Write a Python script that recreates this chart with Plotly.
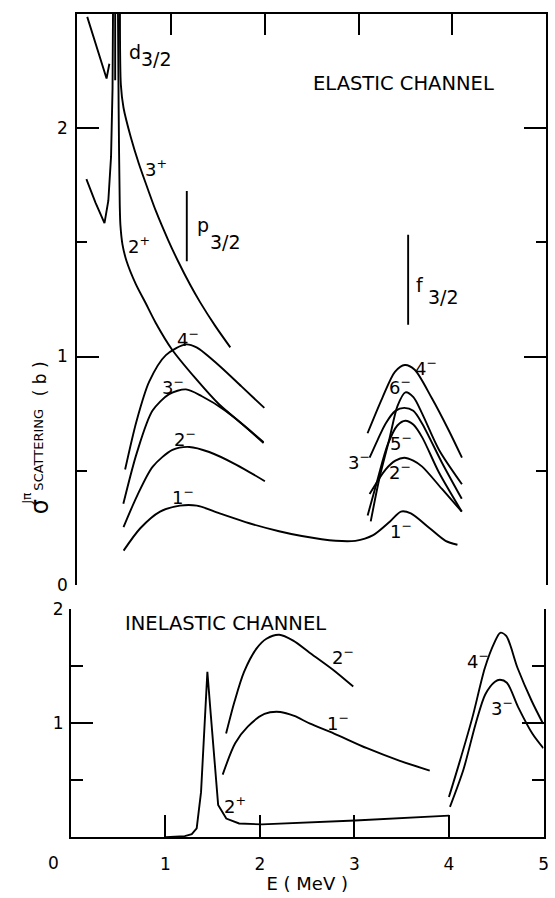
import plotly.graph_objects as go

# ---------------- Elastic channel (top panel) : E in MeV, sigma in barn ----------------
el_bg1_E = [0.106, 0.214, 0.312, 0.342]
el_bg1_s = [2.487, 2.346, 2.217, 2.282]
el_bg2_E = [0.097, 0.194, 0.290, 0.331, 0.360, 0.376, 0.381]
el_bg2_s = [1.777, 1.674, 1.584, 1.682, 1.875, 2.175, 2.509]
el_2p_E = [0.434, 0.441, 0.453, 0.460, 0.482, 0.526, 0.623, 0.730, 0.837, 1.008, 1.264, 1.509, 1.753, 1.987]
el_2p_s = [2.50, 2.089, 1.661, 1.575, 1.490, 1.417, 1.318, 1.233, 1.147, 1.032, 0.903, 0.792, 0.706, 0.621]
el_3p_E = [0.455, 0.465, 0.493, 0.570, 0.656, 0.756, 0.840, 0.968, 1.075, 1.204, 1.311, 1.471, 1.632]
el_3p_s = [2.50, 2.188, 2.089, 1.961, 1.845, 1.729, 1.635, 1.511, 1.417, 1.314, 1.237, 1.134, 1.040]
el_4m_E = [0.510, 0.633, 0.767, 0.945, 1.156, 1.272, 1.506, 1.751, 1.995]
el_4m_s = [0.505, 0.719, 0.890, 1.006, 1.053, 1.040, 0.963, 0.869, 0.775]
el_3m_E = [0.491, 0.635, 0.801, 0.980, 1.159, 1.329, 1.583, 1.987]
el_3m_s = [0.355, 0.578, 0.762, 0.835, 0.856, 0.826, 0.762, 0.625]
el_2m_E = [0.493, 0.638, 0.805, 1.015, 1.195, 1.407, 1.693, 2.001]
el_2m_s = [0.253, 0.390, 0.518, 0.591, 0.604, 0.582, 0.527, 0.454]
el_1m_E = [0.494, 0.672, 0.883, 1.095, 1.275, 1.518, 1.835, 2.152, 2.395, 2.755, 2.966,
           3.156, 3.336, 3.452, 3.558, 3.759, 3.928, 4.055]
el_1m_s = [0.150, 0.248, 0.321, 0.347, 0.347, 0.313, 0.270, 0.235, 0.214, 0.193, 0.193,
           0.218, 0.278, 0.321, 0.313, 0.248, 0.193, 0.176]
# resonance group near 3.5 MeV
res_4m_E = [3.096, 3.253, 3.388, 3.494, 3.599, 3.781, 3.963, 4.103]
res_4m_s = [0.664, 0.818, 0.933, 0.963, 0.942, 0.818, 0.676, 0.557]
res_6m_E = [3.130, 3.225, 3.331, 3.415, 3.500, 3.585, 3.680, 3.859, 4.103]
res_6m_s = [0.278, 0.471, 0.642, 0.783, 0.843, 0.822, 0.749, 0.591, 0.441]
res_3m_E = [3.118, 3.203, 3.288, 3.393, 3.488, 3.584, 3.679, 3.890, 4.101]
res_3m_s = [0.557, 0.634, 0.706, 0.762, 0.775, 0.762, 0.706, 0.535, 0.377]
res_5m_E = [3.097, 3.203, 3.309, 3.414, 3.499, 3.584, 3.679, 3.858, 4.101]
res_5m_s = [0.304, 0.462, 0.612, 0.698, 0.719, 0.702, 0.646, 0.492, 0.321]
res_2m_E = [3.118, 3.288, 3.393, 3.488, 3.584, 3.679, 3.890, 4.101]
res_2m_s = [0.398, 0.505, 0.544, 0.557, 0.544, 0.518, 0.420, 0.321]

# single-particle resonance markers (d3/2, p3/2, f3/2)
mark_E = [0.404, 1.168, 3.529]
mark_lo = [2.209, 1.417, 1.139]
mark_hi = [2.50, 1.725, 1.533]

# curve labels (top panel)
el_lab_text = ["4<sup>−</sup>", "3<sup>−</sup>", "2<sup>−</sup>", "1<sup>−</sup>", "3<sup>+</sup>", "2<sup>+</sup>",
               "4<sup>−</sup>", "6<sup>−</sup>", "5<sup>−</sup>", "2<sup>−</sup>", "1<sup>−</sup>", "3<sup>−</sup>"]
el_lab_E = [1.184, 1.025, 1.152, 1.131, 0.835, 0.655, 3.721, 3.446, 3.457, 3.446, 3.457, 3.002]
el_lab_s = [1.083, 0.869, 0.642, 0.390, 1.824, 1.490, 0.955, 0.873, 0.625, 0.497, 0.240, 0.544]

# ---------------- Inelastic channel (bottom panel) ----------------
in_2p_E = [1.0, 1.205, 1.279, 1.331, 1.377, 1.411, 1.444, 1.482, 1.521, 1.558, 1.644, 1.780, 2.021, 3.006, 4.001]
in_2p_s = [0.0, 0.009, 0.026, 0.077, 0.395, 0.910, 1.451, 1.056, 0.627, 0.283, 0.163, 0.120, 0.112, 0.146, 0.189]
in_2m_E = [1.642, 1.732, 1.832, 1.965, 2.069, 2.204, 2.352, 2.522, 2.776, 2.987]
in_2m_s = [0.910, 1.193, 1.451, 1.657, 1.742, 1.777, 1.725, 1.622, 1.468, 1.322]
in_1m_E = [1.606, 1.738, 1.871, 2.048, 2.216, 2.363, 2.531, 2.784, 3.132, 3.480, 3.796]
in_1m_s = [0.549, 0.824, 0.970, 1.082, 1.099, 1.064, 0.996, 0.910, 0.781, 0.670, 0.584]
in_4m_E = [3.999, 4.109, 4.249, 4.379, 4.480, 4.542, 4.605, 4.725, 4.876, 4.995]
in_4m_s = [0.352, 0.652, 1.056, 1.485, 1.708, 1.794, 1.768, 1.485, 1.193, 0.996]
in_3m_E = [4.010, 4.152, 4.282, 4.383, 4.486, 4.539, 4.612, 4.731, 4.881, 4.998]
in_3m_s = [0.266, 0.592, 0.996, 1.253, 1.365, 1.382, 1.356, 1.142, 0.910, 0.781]

in_lab_text = ["2<sup>−</sup>", "1<sup>−</sup>", "2<sup>+</sup>", "4<sup>−</sup>", "3<sup>−</sup>"]
in_lab_E = [2.875, 2.830, 1.735, 4.303, 4.565]
in_lab_s = [1.590, 1.015, 0.283, 1.554, 1.142]

# axes ticks
x_tickvals = [0, 1, 2, 3, 4, 5]
x_ticktext = ["", "1", "2", "3", "4", "5"]
y_top_tickvals = [0, 1, 2]
y_top_ticktext = ["0", "1", "2"]
y_bot_tickvals = [0, 1, 2]
y_bot_ticktext = ["", "1", "2"]
half_ticks = [0.5, 1.5]

FONT = "DejaVu Sans"
LW = 1.9

fig = go.Figure()


def add_curve(E, s, top=True, shape="spline"):
    line = dict(color="black", width=LW, shape=shape)
    if shape == "spline":
        line["smoothing"] = 0.8
    fig.add_trace(go.Scatter(
        x=E, y=s, mode="lines", line=line,
        xaxis="x2" if top else "x", yaxis="y2" if top else "y",
        hoverinfo="skip"))


# top panel curves
add_curve(el_bg1_E, el_bg1_s, shape="linear")
add_curve(el_bg2_E, el_bg2_s, shape="linear")
add_curve(el_2p_E, el_2p_s)
add_curve(el_3p_E, el_3p_s)
add_curve(el_4m_E, el_4m_s)
add_curve(el_3m_E, el_3m_s)
add_curve(el_2m_E, el_2m_s)
add_curve(el_1m_E, el_1m_s)
add_curve(res_4m_E, res_4m_s)
add_curve(res_6m_E, res_6m_s)
add_curve(res_3m_E, res_3m_s)
add_curve(res_5m_E, res_5m_s)
add_curve(res_2m_E, res_2m_s)
for e, lo, hi in zip(mark_E, mark_lo, mark_hi):
    add_curve([e, e], [lo, hi], shape="linear")

# bottom panel curves
add_curve(in_2p_E, in_2p_s, top=False, shape="linear")
add_curve(in_2m_E, in_2m_s, top=False)
add_curve(in_1m_E, in_1m_s, top=False)
add_curve(in_4m_E, in_4m_s, top=False)
add_curve(in_3m_E, in_3m_s, top=False)

ann = []
lab_font = dict(family=FONT, size=18, color="black")
for t, e, s in zip(el_lab_text, el_lab_E, el_lab_s):
    ann.append(dict(x=e, y=s, xref="x2", yref="y2", text=t, showarrow=False, font=lab_font))
for t, e, s in zip(in_lab_text, in_lab_E, in_lab_s):
    ann.append(dict(x=e, y=s, xref="x", yref="y", text=t, showarrow=False, font=lab_font))

# single-particle labels (letter and 3/2 as separate, same size)
sp_font = dict(family=FONT, size=19, color="black")
sp_letters = ["d", "p", "f"]
sp_letter_E = [0.529, 1.258, 3.594]
sp_letter_s = [2.334, 1.576, 1.315]
sp_frac_E = [0.655, 1.395, 3.721]
sp_frac_s = [2.303, 1.503, 1.259]
for l, e, s in zip(sp_letters, sp_letter_E, sp_letter_s):
    ann.append(dict(x=e, y=s, xref="x2", yref="y2", text=l, showarrow=False, font=sp_font, xanchor="left"))
for e, s in zip(sp_frac_E, sp_frac_s):
    ann.append(dict(x=e, y=s, xref="x2", yref="y2", text="3/2", showarrow=False, font=sp_font, xanchor="left"))

title_font = dict(family=FONT, size=19.5, color="black")
ann.append(dict(x=3.478, y=2.197, xref="x2", yref="y2", text="ELASTIC CHANNEL", showarrow=False, font=title_font))
ann.append(dict(x=1.640, y=1.872, xref="x", yref="y", text="INELASTIC CHANNEL", showarrow=False, font=title_font))

# y-axis title pieces (rotated)
W, H = 555.0, 898.0
ytitle_text = ["σ", "Jπ", "SCATTERING", "( b )"]
ytitle_px = [40, 27, 39, 40]
ytitle_py = [508, 500, 450, 377]
ytitle_size = [24, 12, 13, 17]
for t, px, py, sz in zip(ytitle_text, ytitle_px, ytitle_py, ytitle_size):
    ann.append(dict(x=px / W, y=1 - py / H, xref="paper", yref="paper", text=t, textangle=-90,
                    xanchor="center", yanchor="middle", showarrow=False,
                    font=dict(family=FONT, size=sz, color="black")))
# shared origin label
ann.append(dict(x=54 / W, y=1 - 872 / H, xref="paper", yref="paper", text="0",
                xanchor="center", yanchor="middle", showarrow=False,
                font=dict(family=FONT, size=17, color="black")))

tick_font = dict(family=FONT, size=17, color="black")
common = dict(showline=True, linecolor="black", linewidth=2, showgrid=False, zeroline=False,
              ticks="inside", tickcolor="black", tickwidth=2)

fig.update_layout(
    width=555, height=898, margin=dict(l=0, r=0, t=0, b=0),
    paper_bgcolor="white", plot_bgcolor="white", showlegend=False,
    annotations=ann,
    xaxis=dict(domain=[71.5 / W, 548.5 / W], range=[0, 5], anchor="y", mirror=False, ticklen=22,
               tickmode="array", tickvals=x_tickvals, ticktext=x_ticktext, tickfont=tick_font,
               ticklabelstandoff=10,
               title=dict(text="E ( MeV )", font=dict(family=FONT, size=18, color="black"), standoff=5),
               **common),
    yaxis=dict(domain=[1 - 846 / H, 1 - 613 / H], range=[0, 2], anchor="x", mirror="ticks", ticklen=22,
               tickmode="array", tickvals=y_bot_tickvals, ticktext=y_bot_ticktext, tickfont=tick_font,
               ticklabelstandoff=2,
               minor=dict(tickmode="array", tickvals=half_ticks, ticklen=12, ticks="inside",
                          tickcolor="black", tickwidth=2),
               **common),
    xaxis2=dict(domain=[78 / W, 551 / W], range=[0, 5], anchor="y2", side="top", mirror=False, ticklen=21,
                tickmode="array", tickvals=[1, 2, 3, 4], showticklabels=False, **common),
    yaxis2=dict(domain=[1 - 588 / H, 1 - 4 / H], range=[0, 2.5], anchor="x2", mirror="ticks", ticklen=22,
                tickmode="array", tickvals=y_top_tickvals, ticktext=y_top_ticktext, tickfont=tick_font,
                ticklabelstandoff=4,
                minor=dict(tickmode="array", tickvals=half_ticks, ticklen=10, ticks="inside",
                           tickcolor="black", tickwidth=2),
                **common),
)

fig.write_html("out.html")
